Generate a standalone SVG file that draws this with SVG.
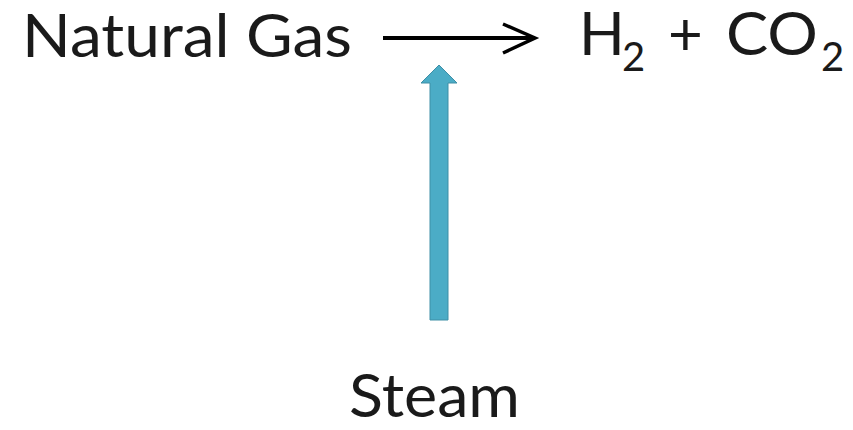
<svg xmlns="http://www.w3.org/2000/svg" width="853" height="430" viewBox="0 0 853 430">
<style>
.t{font-family:Lato,"Open Sans","Liberation Sans",sans-serif;fill:#1a1a1a;font-size:60px}
.s{font-size:40px}
</style>
<rect width="853" height="430" fill="#ffffff"/>
<g id="natural-gas"><text class="t" x="22" y="57" textLength="330" lengthAdjust="spacingAndGlyphs">Natural Gas</text></g>
<g id="products">
<text class="t" x="579" y="55">H</text>
<text class="t s" x="622" y="71">2</text>
<text class="t" x="668" y="55">+</text>
<text class="t" x="726" y="55" textLength="92" lengthAdjust="spacingAndGlyphs">CO</text>
<text class="t s" x="821" y="71">2</text>
</g>
<g id="steam"><text class="t" x="349" y="417" textLength="171" lengthAdjust="spacingAndGlyphs">Steam</text></g>
<g id="connectors">
<line x1="383" y1="38" x2="533" y2="38" stroke="#000" stroke-width="4"/>
<polyline points="503,24 535,38 503,53" fill="none" stroke="#000" stroke-width="3.5"/>
<path d="M430,320 L430,83 L421,83 L439,65 L457,83 L448,83 L448,320 Z" fill="#4bacc6" stroke="#3e8fa6" stroke-width="1"/>
</g>
</svg>
